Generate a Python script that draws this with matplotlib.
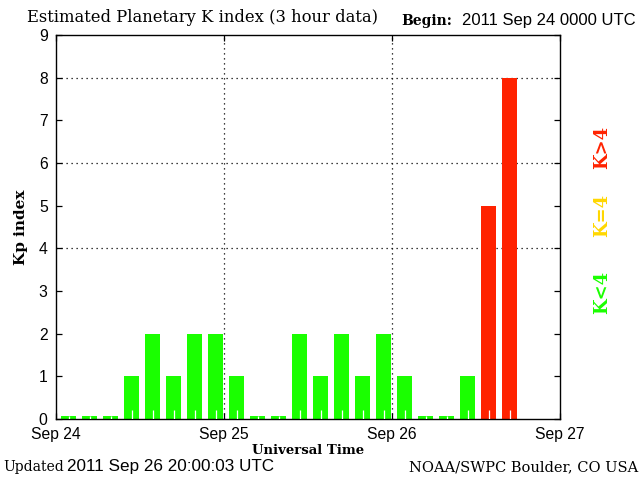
"""Estimated Planetary K index, NOAA/SWPC style."""

import matplotlib
matplotlib.use("Agg")
import matplotlib.pyplot as plt

# 3-hour Kp values starting 2011 Sep 24 0000 UTC
kp_values = [0, 0, 0, 1, 2, 1, 2, 2,
             1, 0, 0, 2, 1, 2, 1, 2,
             1, 0, 0, 1, 5, 8]
day_labels = ["Sep 24", "Sep 25", "Sep 26", "Sep 27"]
y_ticks = list(range(10))
grid_kp = [4, 6, 8]

GREEN = "#1aff00"
YELLOW = "#ffd700"
RED = "#ff2200"
SERIF = "DejaVu Serif"
SANS = "Liberation Sans"


def kp_color(k):
    if k < 4:
        return GREEN
    if k == 4:
        return YELLOW
    return RED


fig = plt.figure(figsize=(6.4, 4.8), dpi=100)
ax = fig.add_axes([56 / 640, 1 - 419 / 480, 504 / 640, 384 / 480])

xs = [i + 0.6 for i in range(len(kp_values))]
heights = [k if k > 0 else 0.07 for k in kp_values]
ax.bar(xs, heights, width=0.74, color=[kp_color(k) for k in kp_values],
       linewidth=0, zorder=2)
ax.vlines(xs, 0, [0.2 if k > 0 else 0.07 for k in kp_values],
          color="white", linewidth=0.9, zorder=3)

for g in grid_kp:
    ax.axhline(g, color="black", linestyle=(0, (1, 3)), linewidth=0.9, zorder=1)
for d in (8, 16):
    ax.axvline(d, color="black", linestyle=(0, (1, 3)), linewidth=0.9, zorder=1)

ax.set_xlim(0, 24)
ax.set_ylim(0, 9)
ax.set_xticks([0, 8, 16, 24], day_labels)
ax.set_yticks(y_ticks)
ax.tick_params(direction="in", length=4, width=0.9, top=True, right=True,
               labelsize=11.3, pad=6)
for lab in ax.get_xticklabels() + ax.get_yticklabels():
    lab.set_family(SANS)
for s in ax.spines.values():
    s.set_linewidth(1)

ax.set_xlabel("Universal Time", family=SERIF, weight="bold", fontsize=9.5,
              labelpad=1)
ax.set_ylabel("Kp index", family=SERIF, weight="bold", fontsize=11, labelpad=8)

fig.text(27 / 640, 1 - 18 / 480, "Estimated Planetary K index (3 hour data)",
         family=SERIF, fontsize=11.8, va="center", ha="left")
fig.text(401 / 640, 1 - 21 / 480, "Begin:", family=SERIF,
         weight="bold", fontsize=10, va="center", ha="left")
fig.text(462 / 640, 1 - 21 / 480, "2011 Sep 24 0000 UTC", family=SANS,
         fontsize=12, va="center", ha="left")
fig.text(3 / 640, 1 - 467 / 480, "Updated", family=SERIF, fontsize=10,
         va="center", ha="left")
fig.text(67 / 640, 1 - 467 / 480, "2011 Sep 26 20:00:03 UTC", family=SANS,
         fontsize=12.3, va="center", ha="left")
fig.text(638 / 640, 1 - 467 / 480, "NOAA/SWPC Boulder, CO USA", family=SERIF,
         fontsize=10.5, va="center", ha="right")

for label, color, y in [("K<4", GREEN, 292), ("K=4", YELLOW, 215), ("K>4", RED, 147)]:
    fig.text(602 / 640, 1 - y / 480, label, color=color, family=SERIF,
             weight="bold", fontsize=13, rotation=90, va="center", ha="center")

fig.savefig("out.png", dpi=100)
